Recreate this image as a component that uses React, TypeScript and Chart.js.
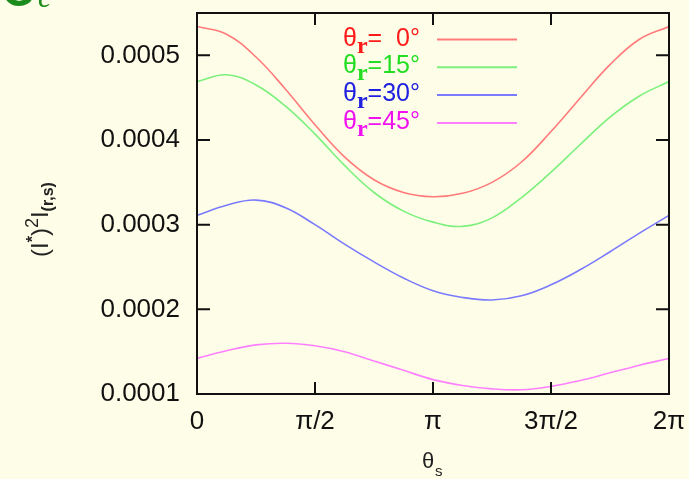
import React, { useEffect, useRef } from 'react';
import { Chart, registerables } from 'chart.js';
Chart.register(...registerables);

// θs sample positions, in units of π
const thetaS = [0, 0.125, 0.25, 0.375, 0.5, 0.625, 0.75, 0.875, 1, 1.125, 1.25, 1.375, 1.5, 1.625, 1.75, 1.875, 2];

const seriesR0 = [0.000534, 0.000525, 0.000498, 0.000460, 0.000418, 0.000380, 0.000353, 0.000338, 0.000333, 0.000337, 0.000350, 0.000374, 0.000410, 0.000450, 0.000489, 0.000519, 0.000534];
const seriesR15 = [0.000469, 0.000477, 0.000465, 0.000440, 0.000407, 0.000370, 0.000338, 0.000316, 0.000303, 0.000298, 0.000308, 0.000332, 0.000362, 0.000395, 0.000427, 0.000452, 0.000469];
const seriesR30 = [0.000311, 0.000323, 0.000329, 0.000320, 0.000300, 0.000277, 0.000256, 0.000237, 0.000222, 0.000214, 0.000211, 0.000216, 0.000229, 0.000247, 0.000268, 0.000290, 0.000311];
const seriesR45 = [0.000142, 0.000151, 0.000158, 0.000160, 0.000157, 0.000150, 0.000139, 0.000128, 0.000117, 0.000110, 0.000106, 0.000105, 0.000109, 0.000116, 0.000125, 0.000134, 0.000142];

const legendValues = ['  0°', '15°', '30°', '45°'];
const lineColors = ['#ff7a7a', '#7cf07c', '#7a7aff', '#ff80ff'];
const textColors = ['#ff1a1a', '#22dd22', '#2020e0', '#f010f0'];

const xTickValues = [0, 0.5, 1, 1.5, 2]; // units of π
const xTickLabels = ['0', 'π/2', 'π', '3π/2', '2π'];
const yTickValues = [0.0001, 0.0002, 0.0003, 0.0004, 0.0005];
const yTickLabels = ['0.0001', '0.0002', '0.0003', '0.0004', '0.0005'];

const SANS = '"Liberation Sans", Arial, Helvetica, sans-serif';
const SERIF = '"Liberation Serif", "DejaVu Serif", serif';

const decorPlugin = {
  id: 'decor',
  beforeDraw(chart: any) {
    const { ctx, width, height } = chart;
    ctx.save();
    ctx.fillStyle = '#fefee8';
    ctx.fillRect(0, 0, width, height);
    // partially visible green heading glyph at the top-left
    ctx.fillStyle = '#1c8c1c';
    ctx.textBaseline = 'alphabetic';
    ctx.font = `bold 44px ${SANS}`;
    ctx.fillText('Θ', 2, 6);
    ctx.font = `italic 30px ${SERIF}`;
    ctx.fillText('c', 38, 7);
    ctx.restore();
  },
  afterDatasetsDraw(chart: any) {
    const { ctx, chartArea, scales } = chart;
    const { left, right, top, bottom } = chartArea;
    const xs = scales.x;
    const ys = scales.y;
    ctx.save();
    ctx.strokeStyle = '#111';
    ctx.lineWidth = 2;
    ctx.strokeRect(left, top, right - left, bottom - top);
    ctx.beginPath();
    xs.ticks.forEach((t: any) => {
      const px = xs.getPixelForValue(t.value);
      ctx.moveTo(px, bottom);
      ctx.lineTo(px, bottom - 12);
      ctx.moveTo(px, top);
      ctx.lineTo(px, top + 12);
    });
    ys.ticks.forEach((t: any) => {
      const py = ys.getPixelForValue(t.value);
      ctx.moveTo(left, py);
      ctx.lineTo(left + 13, py);
      ctx.moveTo(right, py);
      ctx.lineTo(right - 13, py);
    });
    ctx.stroke();

    // legend (gnuplot style: text then sample line)
    const textRight = 420;
    const lineX0 = 437;
    const lineX1 = 517;
    chart.data.datasets.forEach((ds: any, i: number) => {
      const rowY = 39.5 + i * 27.8;
      ctx.strokeStyle = ds.borderColor;
      ctx.lineWidth = 2;
      ctx.beginPath();
      ctx.moveTo(lineX0, rowY);
      ctx.lineTo(lineX1, rowY);
      ctx.stroke();
      const base = rowY + 6;
      ctx.fillStyle = textColors[i];
      ctx.textBaseline = 'alphabetic';
      ctx.textAlign = 'left';
      ctx.font = `25px ${SANS}`;
      const tail = '=' + legendValues[i];
      const wTail = ctx.measureText(tail).width;
      let x = textRight - wTail;
      ctx.fillText(tail, x, base);
      ctx.font = `bold 24px ${SERIF}`;
      const wR = ctx.measureText('r').width;
      x -= wR;
      ctx.fillText('r', x, base + 7);
      ctx.font = `25px ${SANS}`;
      const wT = ctx.measureText('θ').width;
      x -= wT;
      ctx.fillText('θ', x, base);
    });

    // x-axis title θs
    ctx.fillStyle = '#222';
    ctx.font = `22px ${SANS}`;
    ctx.fillText('θ', 422, 468);
    ctx.font = `15px ${SANS}`;
    ctx.fillText('s', 435, 476);

    // y-axis title (I*)²I(r,s), rotated
    ctx.save();
    ctx.translate(48, 257);
    ctx.rotate(-Math.PI / 2);
    let cx = 0;
    const part = (txt: string, font: string, dy: number) => {
      ctx.font = font;
      ctx.fillText(txt, cx, dy);
      cx += ctx.measureText(txt).width;
    };
    part('(I', `24px ${SANS}`, 0);
    part('*', `bold 16px ${SANS}`, -10);
    part(')', `24px ${SANS}`, 0);
    part('2', `18px ${SANS}`, -10);
    part('I', `24px ${SANS}`, 0);
    part('(r,s)', `bold 16px ${SANS}`, 5);
    ctx.restore();

    ctx.restore();
  },
};

const zeroPad = (scale: any) => {
  scale.paddingTop = 0;
  scale.paddingBottom = 0;
  scale.paddingLeft = 0;
  scale.paddingRight = 0;
};

export default function App() {
  const canvasRef = useRef<HTMLCanvasElement | null>(null);

  useEffect(() => {
    const canvas = canvasRef.current;
    if (!canvas) return;
    const mk = (vals: number[], i: number) => ({
      label: 'θr=' + legendValues[i],
      data: thetaS.map((t, k) => ({ x: t * Math.PI, y: vals[k] })),
      borderColor: lineColors[i],
      borderWidth: 1.6,
      pointRadius: 0,
      tension: 0.4,
      fill: false,
    });
    const chart = new Chart(canvas, {
      type: 'line',
      data: {
        datasets: [mk(seriesR0, 0), mk(seriesR15, 1), mk(seriesR30, 2), mk(seriesR45, 3)],
      },
      options: {
        animation: false,
        responsive: false,
        devicePixelRatio: 1,
        layout: { padding: { left: 0, right: 20, top: 13, bottom: 0 } },
        plugins: { legend: { display: false }, tooltip: { enabled: false } },
        scales: {
          x: {
            type: 'linear',
            min: 0,
            max: 2 * Math.PI,
            afterBuildTicks: (scale: any) => {
              scale.ticks = xTickValues.map((v) => ({ value: v * Math.PI }));
            },
            afterFit: (scale: any) => {
              scale.height = 85;
              zeroPad(scale);
            },
            grid: { display: false, drawTicks: false },
            border: { display: false },
            ticks: {
              padding: 12,
              color: '#111',
              font: { family: SANS, size: 26 },
              maxRotation: 0,
              autoSkip: false,
              callback: (v: any) => {
                const idx = xTickValues.findIndex((t) => Math.abs(t * Math.PI - v) < 1e-6);
                return idx >= 0 ? xTickLabels[idx] : '';
              },
            },
          },
          y: {
            type: 'linear',
            min: 0.0001,
            max: 0.00055,
            afterBuildTicks: (scale: any) => {
              scale.ticks = yTickValues.map((v) => ({ value: v }));
            },
            afterFit: (scale: any) => {
              scale.width = 197;
              zeroPad(scale);
            },
            grid: { display: false, drawTicks: false },
            border: { display: false },
            ticks: {
              padding: 17,
              color: '#111',
              font: { family: SANS, size: 26 },
              autoSkip: false,
              callback: (v: any) => {
                const idx = yTickValues.findIndex((t) => Math.abs(t - v) < 1e-9);
                return idx >= 0 ? yTickLabels[idx] : '';
              },
            },
          },
        },
      },
      plugins: [decorPlugin],
    } as any);
    return () => chart.destroy();
  }, []);

  return (
    <div style={{ position: 'fixed', left: 0, top: 0, width: 689, height: 479, background: '#fefee8' }}>
      <canvas ref={canvasRef} width={689} height={479} style={{ display: 'block', width: 689, height: 479 }} />
    </div>
  );
}
